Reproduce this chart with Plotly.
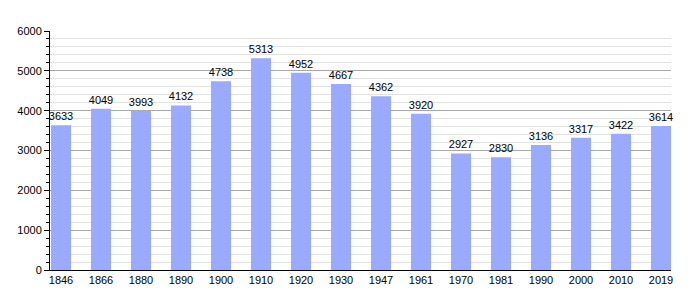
import plotly.graph_objects as go

years = ["1846", "1866", "1880", "1890", "1900", "1910", "1920", "1930",
         "1947", "1961", "1970", "1981", "1990", "2000", "2010", "2019"]
population = [3633, 4049, 3993, 4132, 4738, 5313, 4952, 4667,
              4362, 3920, 2927, 2830, 3136, 3317, 3422, 3614]
y_ticks = [0, 1000, 2000, 3000, 4000, 5000, 6000]

xpos = list(range(len(years)))

fig = go.Figure()
fig.add_trace(go.Bar(
    x=xpos, y=population, width=0.5,
    marker=dict(color="#99aaff", line=dict(width=0)),
    text=[str(v) for v in population], textposition="outside",
    textfont=dict(family="Liberation Sans, Arial, sans-serif", size=11, color="black"),
    constraintext="none", cliponaxis=False,
))

fig.update_layout(
    width=700, height=300,
    margin=dict(l=50, r=29, t=31, b=30),
    paper_bgcolor="white", plot_bgcolor="white",
    showlegend=False,
    font=dict(family="Liberation Sans, Arial, sans-serif", size=11, color="black"),
    xaxis=dict(
        range=[-0.275, 15.25], tickmode="array", tickvals=xpos, ticktext=years,
        showline=True, linecolor="black", linewidth=1, ticks="", showgrid=False,
        zeroline=False, fixedrange=True,
    ),
    yaxis=dict(
        range=[0, 6000], tickmode="array", tickvals=y_ticks,
        showline=True, linecolor="black", linewidth=1,
        ticks="outside", ticklen=5, tickcolor="black", tickwidth=1,
        showgrid=True, gridcolor="#a8a8a8", gridwidth=1,
        zeroline=False,
        minor=dict(dtick=200, ticks="outside", ticklen=3, tickcolor="black",
                   showgrid=True, gridcolor="#e2e2e2", gridwidth=1),
        fixedrange=True,
    ),
)

fig.write_html("out.html")
